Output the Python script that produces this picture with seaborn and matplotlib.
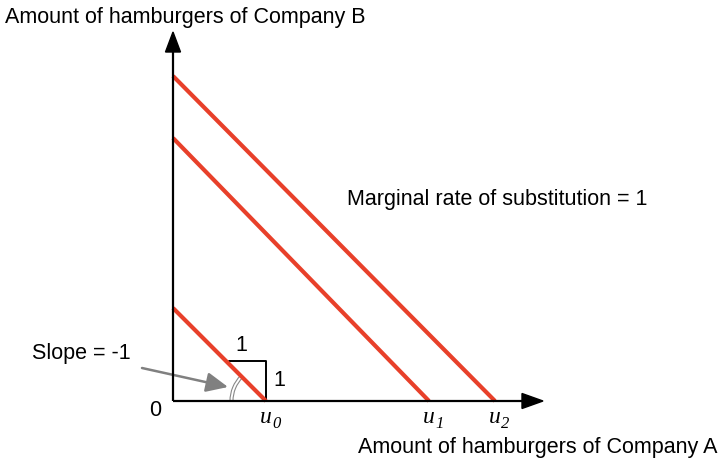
import numpy as np
import pandas as pd
import matplotlib
matplotlib.use("Agg")
import matplotlib.pyplot as plt
import seaborn as sns
from matplotlib.patches import Arc, Polygon

sns.set_theme(style="white")
plt.rcParams['font.family'] = ['Liberation Sans', 'DejaVu Sans']
plt.rcParams['text.color'] = 'black'

# indifference curves (perfect substitutes, slope -1)
curve_names = ["u0", "u1", "u2"]
x_intercepts = [9.3, 25.6, 32.2]
y_intercepts = [9.3, 26.3, 32.5]
label_main = ["u", "u", "u"]
label_sub = ["0", "1", "2"]

rows = []
for n, xi, yi in zip(curve_names, x_intercepts, y_intercepts):
    rows.append({"curve": n, "A": 0.0, "B": yi})
    rows.append({"curve": n, "A": xi, "B": 0.0})
df = pd.DataFrame(rows)

red = "#e8402a"
FS = 15.5

fig = plt.figure(figsize=(7.2, 4.63), dpi=100)
ax = fig.add_axes([0, 0, 1, 1])
ax.set_xlim(-17.3, 54.7)
ax.set_ylim(-6.2, 40.1)
ax.axis("off")

sns.lineplot(data=df, x="A", y="B", units="curve", estimator=None,
             color=red, lw=3.0, ax=ax, legend=False, solid_capstyle="butt", zorder=3)

# axes with arrow heads
x_end, y_end = 37.0, 36.9
ax.plot([0, x_end - 2.0], [0, 0.0], color="black", lw=1.6, zorder=4, solid_capstyle="butt")
ax.plot([0, 0], [0, y_end - 1.9], color="black", lw=1.6, zorder=4, solid_capstyle="butt")
ax.add_patch(Polygon([[x_end, 0.0], [x_end - 2.1, 0.75], [x_end - 2.1, -0.75]],
                     closed=True, color="black", zorder=5))
ax.add_patch(Polygon([[0, y_end], [-0.75, y_end - 2.0], [0.75, y_end - 2.0]],
                     closed=True, color="black", zorder=5))

# slope triangle
u0 = x_intercepts[0]
tri_h = 4.0
ax.plot([u0 - 3.7, u0, u0], [tri_h, tri_h, 0], color="black", lw=1.4, zorder=2)
ax.text(u0 - 2.5, tri_h + 0.5, "1", fontsize=FS, ha="center", va="bottom")
ax.text(u0 + 0.7, tri_h / 2, "1", fontsize=FS, ha="left", va="center")

# angle arc (double line)
for r in (3.3, 3.6):
    ax.add_patch(Arc((u0, 0), 2 * r, 2 * r, theta1=135, theta2=180,
                     color="#888888", lw=0.8, zorder=2))

# slope annotation
ax.annotate("", xy=(5.5, 1.4), xytext=(-3.1, 3.3),
            arrowprops=dict(arrowstyle="-|>,head_length=1.1,head_width=0.5",
                            color="#808080", lw=1.8, shrinkA=0, shrinkB=0))
ax.text(-14.1, 4.7, "Slope = -1", fontsize=FS, ha="left", va="center")

# labels
ax.text(-1.2, -0.9, "0", fontsize=FS, ha="right", va="center")
for xi, m, s in zip(x_intercepts, label_main, label_sub):
    ax.annotate(m, xy=(xi, 0), xytext=(0, -4), textcoords="offset points",
                fontsize=17, family="Liberation Serif", style="italic",
                ha="center", va="top")
    ax.annotate(s, xy=(xi, 0), xytext=(4.5, -11), textcoords="offset points",
                fontsize=12, family="Liberation Serif", style="italic",
                ha="left", va="top")

ax.text(-16.8, 38.3, "Amount of hamburgers of Company B", fontsize=FS,
        ha="left", va="center")
ax.text(54.5, -4.6, "Amount of hamburgers of Company A", fontsize=FS,
        ha="right", va="center")
ax.text(17.4, 20.2, "Marginal rate of substitution = 1", fontsize=FS,
        ha="left", va="center")

fig.savefig("out.png", dpi=100)
